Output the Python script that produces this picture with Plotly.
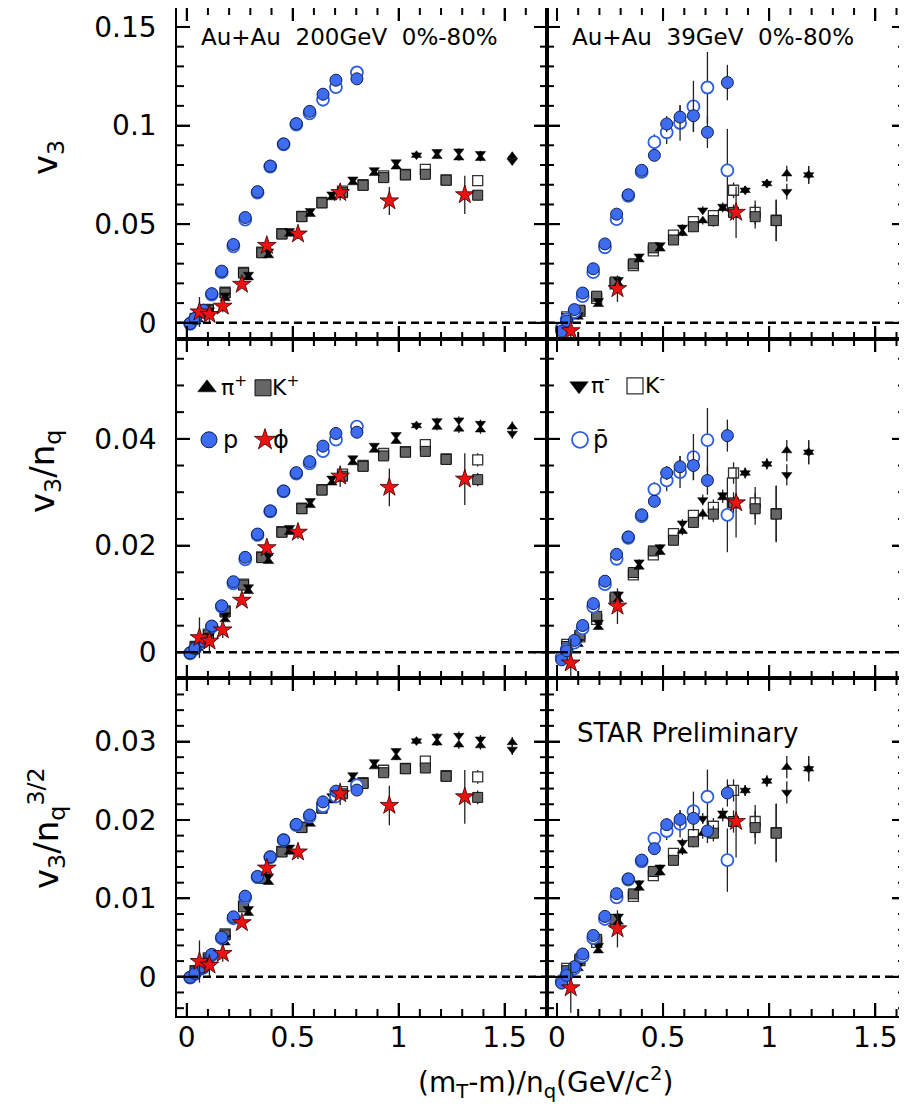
import plotly.graph_objects as go

FONT = "DejaVu Sans"

# ---------------- data: v3 vs (mT-m)/nq ----------------
# Au+Au 200 GeV
pi200_x = [0.055, 0.107, 0.181, 0.291, 0.386, 0.485, 0.583, 0.685, 0.784, 0.885, 0.988, 1.084, 1.181, 1.284, 1.386, 1.536]
pip200_v3 = [0.0015, 0.0048, 0.0123, 0.0229, 0.0341, 0.0450, 0.0551, 0.0635, 0.0711, 0.0758, 0.0791, 0.0850, 0.0844, 0.0837, 0.0834, 0.0845]
pim200_v3 = [0.0020, 0.0064, 0.0140, 0.0245, 0.0363, 0.0467, 0.0568, 0.0652, 0.0728, 0.0775, 0.0815, 0.0850, 0.0867, 0.0870, 0.0857, 0.0820]
pi200_err = [0.0003, 0.0003, 0.0003, 0.0003, 0.0004, 0.0004, 0.0005, 0.0005, 0.0006, 0.0006, 0.0008, 0.0010, 0.0012, 0.0015, 0.0015, 0.0020]

k200_x = [0.040, 0.102, 0.181, 0.268, 0.354, 0.449, 0.543, 0.638, 0.735, 0.832, 0.929, 1.032, 1.126, 1.224, 1.373]
kp200_v3 = [0.0020, 0.0064, 0.0151, 0.0252, 0.0355, 0.0450, 0.0538, 0.0608, 0.0660, 0.0697, 0.0736, 0.0750, 0.0753, 0.0723, 0.0647]
km200_v3 = [0.0022, 0.0068, 0.0155, 0.0256, 0.0358, 0.0452, 0.0540, 0.0610, 0.0668, 0.0700, 0.0745, 0.0752, 0.0778, 0.0725, 0.0721]
k200_err = [0.0003, 0.0003, 0.0003, 0.0003, 0.0004, 0.0004, 0.0005, 0.0006, 0.0008, 0.0008, 0.0010, 0.0010, 0.0015, 0.0020, 0.0025]

p200_x = [0.016, 0.039, 0.078, 0.118, 0.165, 0.220, 0.276, 0.334, 0.394, 0.457, 0.517, 0.580, 0.643, 0.704, 0.803]
p200_v3 = [-0.0003, 0.0022, 0.0064, 0.0148, 0.0262, 0.0397, 0.0534, 0.0665, 0.0795, 0.0907, 0.1010, 0.1072, 0.1159, 0.1230, 0.1237]
pbar200_v3 = [-0.0005, 0.0020, 0.0060, 0.0143, 0.0257, 0.0388, 0.0523, 0.0660, 0.0792, 0.0905, 0.1005, 0.1062, 0.1131, 0.1195, 0.1269]
p200_err = [0.0003, 0.0003, 0.0003, 0.0003, 0.0003, 0.0004, 0.0004, 0.0005, 0.0005, 0.0006, 0.0006, 0.0007, 0.0008, 0.0009, 0.0010]

phi200_x = [0.060, 0.107, 0.170, 0.260, 0.378, 0.525, 0.724, 0.956, 1.312]
phi200_v3 = [0.0055, 0.0042, 0.0084, 0.0195, 0.0392, 0.0450, 0.0660, 0.0618, 0.0649]
phi200_err = [0.0076, 0.0040, 0.0030, 0.0012, 0.0015, 0.0025, 0.0040, 0.0071, 0.0097]

# Au+Au 39 GeV
pi39_x = [0.100, 0.195, 0.289, 0.387, 0.486, 0.591, 0.687, 0.781, 0.887, 0.989, 1.083, 1.186]
pip39_v3 = [0.0030, 0.0094, 0.0198, 0.0320, 0.0375, 0.0454, 0.0518, 0.0580, 0.0672, 0.0706, 0.0756, 0.0750]
pim39_v3 = [0.0040, 0.0112, 0.0218, 0.0338, 0.0395, 0.0484, 0.0571, 0.0590, 0.0672, 0.0706, 0.0665, 0.0750]
pi39_err = [0.0005, 0.0008, 0.0010, 0.0010, 0.0010, 0.0015, 0.0020, 0.0020, 0.0020, 0.0020, 0.0040, 0.0045]

k39_x = [0.046, 0.108, 0.187, 0.274, 0.360, 0.454, 0.549, 0.643, 0.737, 0.832, 0.934, 1.033]
kp39_v3 = [0.0022, 0.0064, 0.0135, 0.0207, 0.0299, 0.0380, 0.0420, 0.0487, 0.0518, 0.0560, 0.0538, 0.0518]
km39_v3 = [0.0030, 0.0058, 0.0124, 0.0198, 0.0290, 0.0365, 0.0445, 0.0513, 0.0543, 0.0672, 0.0560, 0.0520]
k39_err = [0.0005, 0.0008, 0.0010, 0.0010, 0.0010, 0.0012, 0.0015, 0.0020, 0.0030, 0.0040, 0.0060, 0.0105]

p39_x = [0.022, 0.046, 0.082, 0.121, 0.171, 0.226, 0.281, 0.336, 0.399, 0.459, 0.517, 0.580, 0.643, 0.709, 0.803]
p39_v3 = [-0.0042, 0.0009, 0.0067, 0.0151, 0.0274, 0.0400, 0.0551, 0.0649, 0.0773, 0.0849, 0.1008, 0.1043, 0.1050, 0.0966, 0.1218]
p39_err = [0.0005, 0.0005, 0.0005, 0.0005, 0.0008, 0.0010, 0.0010, 0.0012, 0.0015, 0.0020, 0.0040, 0.0060, 0.0080, 0.0080, 0.0090]
pbar39_v3 = [-0.0028, 0.0017, 0.0055, 0.0135, 0.0257, 0.0383, 0.0526, 0.0644, 0.0765, 0.0916, 0.0966, 0.1013, 0.1097, 0.1193, 0.0773]
pbar39_err = [0.0005, 0.0005, 0.0005, 0.0005, 0.0008, 0.0010, 0.0010, 0.0012, 0.0015, 0.0040, 0.0060, 0.0090, 0.0130, 0.0180, 0.0210]

phi39_x = [0.065, 0.285, 0.844]
phi39_v3 = [-0.0040, 0.0173, 0.0560]
phi39_err = [0.0090, 0.0067, 0.0130]

# number of constituent quarks
NQ_MESON = 2
NQ_BARYON = 3
ROW_POWER = [0, 1, 1.5]          # v3, v3/nq, v3/nq^(3/2)

# axis settings
X_RANGES = [[-0.046, 1.70], [-0.047, 1.64]]
Y_RANGES = [[-0.0082, 0.1596], [-0.0048, 0.0587], [-0.0050, 0.0381]]
X_DTICK, X_MINOR = 0.5, 0.1
Y_DTICK = [0.05, 0.02, 0.01]
Y_MINOR = [0.01, 0.005, 0.002]
MAJOR_LEN, MINOR_LEN = 13, 7

# page geometry (browser body has an 8px margin)
PAGE_W, PAGE_H, OFF = 907, 1107, 8
W, H = PAGE_W - OFF, PAGE_H - OFF
COL_PX = [(177, 547), (547, 905)]
ROW_PX = [(8, 339), (339, 678), (678, 1016)]


def px(xp):
    return (xp - OFF) / W


def py(yp):
    return 1 - (yp - OFF) / H


def tick_values(rng, step):
    """Tick positions of an axis: multiples of step inside the range."""
    lo, hi = rng
    span = hi - lo
    k = int(lo / step) - 1
    vals = []
    while k * step <= hi:
        v = round(k * step, 6)
        if lo + 0.004 * span < v < hi - 0.004 * span:
            vals.append(v)
        k += 1
    return vals


# ---------------- styles ----------------
STY = {
    "pip": dict(symbol="triangle-up", size=9, color="black", line=dict(color="black", width=0.5)),
    "pim": dict(symbol="triangle-down", size=9, color="black", line=dict(color="black", width=0.5)),
    "kp": dict(symbol="square", size=10, color="#666666", line=dict(color="#111111", width=1)),
    "km": dict(symbol="square", size=10, color="white", line=dict(color="#333333", width=1.3)),
    "p": dict(symbol="circle", size=12, color="#3d6cf0", line=dict(color="#10204a", width=1)),
    "pbar": dict(symbol="circle", size=12, color="white", line=dict(color="#2f5fe0", width=1.8)),
    "phi": dict(symbol="star", size=14, color="#ee1111", line=dict(color="#330000", width=0.8)),
}

energies = [
    dict(km=(k200_x, km200_v3, k200_err), kp=(k200_x, kp200_v3, k200_err),
         pim=(pi200_x, pim200_v3, pi200_err), pip=(pi200_x, pip200_v3, pi200_err),
         pbar=(p200_x, pbar200_v3, p200_err), p=(p200_x, p200_v3, p200_err),
         phi=(phi200_x, phi200_v3, phi200_err)),
    dict(km=(k39_x, km39_v3, k39_err), kp=(k39_x, kp39_v3, k39_err),
         pim=(pi39_x, pim39_v3, pi39_err), pip=(pi39_x, pip39_v3, pi39_err),
         pbar=(p39_x, pbar39_v3, pbar39_err), p=(p39_x, p39_v3, p39_err),
         phi=(phi39_x, phi39_v3, phi39_err)),
]
NQ = dict(km=NQ_MESON, kp=NQ_MESON, pim=NQ_MESON, pip=NQ_MESON, phi=NQ_MESON,
          p=NQ_BARYON, pbar=NQ_BARYON)
DRAW_ORDER = ["km", "kp", "pim", "pip", "pbar", "p", "phi"]

fig = go.Figure()
layout = dict(width=W, height=H, margin=dict(l=0, r=0, t=0, b=0, pad=0), autosize=False,
              paper_bgcolor="white", plot_bgcolor="white", showlegend=True,
              font=dict(family=FONT, color="black"), template="none")
shapes = []
TICK_LINE = dict(color="black", width=2)

for r in range(3):
    for c in range(2):
        idx = r * 2 + c + 1
        sfx = "" if idx == 1 else str(idx)
        xa, ya = "x" + sfx, "y" + sfx
        x0, x1 = COL_PX[c]
        y0, y1 = ROW_PX[r]
        wpx, hpx = x1 - x0, y1 - y0
        common = dict(showline=True, linecolor="black", linewidth=1.5, mirror="ticks",
                      ticks="inside", ticklen=MAJOR_LEN, tickwidth=1.5, tickcolor="black",
                      showgrid=False, zeroline=False,
                      tickfont=dict(family=FONT, size=28, color="black"))
        layout["xaxis" + sfx] = dict(
            common, domain=[px(x0), px(x1)], range=X_RANGES[c], anchor=ya,
            tick0=0, dtick=X_DTICK, showticklabels=(r == 2), ticklabelstandoff=-4,
            minor=dict(ticks="inside", ticklen=MINOR_LEN, tickwidth=1.3, tickcolor="black",
                       dtick=X_MINOR, tick0=0, showgrid=False))
        layout["yaxis" + sfx] = dict(
            common, domain=[py(y1), min(1.0, py(y0))], range=Y_RANGES[r], anchor=xa,
            tick0=0, dtick=Y_DTICK[r], showticklabels=(c == 0), ticklabelstandoff=13,
            minor=dict(ticks="inside", ticklen=MINOR_LEN, tickwidth=1.3, tickcolor="black",
                       dtick=Y_MINOR[r], tick0=0, showgrid=False))

        # tick marks on all four sides, pointing into the frame
        xmaj = tick_values(X_RANGES[c], X_DTICK)
        for t in tick_values(X_RANGES[c], X_MINOR):
            L = MAJOR_LEN if any(abs(t - m) < 1e-9 for m in xmaj) else MINOR_LEN
            for base, sgn in ((0, 1), (1, -1)):
                shapes.append(dict(type="line", xref=xa, yref=ya + " domain", x0=t, x1=t,
                                   y0=base, y1=base + sgn * L / hpx, line=TICK_LINE, layer="above"))
        ymaj = tick_values(Y_RANGES[r], Y_DTICK[r])
        for t in tick_values(Y_RANGES[r], Y_MINOR[r]):
            L = MAJOR_LEN if any(abs(t - m) < 1e-9 for m in ymaj) else MINOR_LEN
            for base, sgn in ((0, 1), (1, -1)):
                shapes.append(dict(type="line", xref=xa + " domain", yref=ya, x0=base,
                                   x1=base + sgn * L / wpx, y0=t, y1=t, line=TICK_LINE, layer="above"))

        shapes.append(dict(type="line", xref=xa + " domain", yref=ya, x0=0, x1=1, y0=0, y1=0,
                           line=dict(color="black", width=2.5, dash="8px,5px"), layer="above"))
        for key in DRAW_ORDER:
            xs, vs, es = energies[c][key]
            scale = NQ[key] ** ROW_POWER[r]
            fig.add_trace(go.Scatter(
                x=xs, y=[v / scale for v in vs], mode="markers", xaxis=xa, yaxis=ya,
                marker=STY[key], showlegend=False, hoverinfo="skip",
                error_y=dict(type="data", array=[e / scale for e in es], visible=True,
                             width=0, thickness=1.3, color="#222222"),
            ))

# legend keys (symbols only); their labels are annotations
LEG = [
    ("pip", "legend", "x3", "y3"),
    ("kp", "legend", "x3", "y3"),
    ("p", "legend2", "x3", "y3"),
    ("phi", "legend2", "x3", "y3"),
    ("pim", "legend3", "x4", "y4"),
    ("km", "legend3", "x4", "y4"),
    ("pbar", "legend4", "x4", "y4"),
]
for key, leg, xa, ya in LEG:
    m = dict(STY[key])
    m["size"] = 16
    fig.add_trace(go.Scatter(x=[None], y=[None], mode="markers", marker=m, name="\u00a0",
                             legend=leg, showlegend=True, xaxis=xa, yaxis=ya))

leg_common = dict(orientation="h", xanchor="left", yanchor="middle", bgcolor="rgba(0,0,0,0)",
                  borderwidth=0, font=dict(family=FONT, size=22, color="black"),
                  itemwidth=30, entrywidth=11, entrywidthmode="pixels", tracegroupgap=0)
layout["legend"] = dict(leg_common, x=px(206 - 19), y=py(388))
layout["legend2"] = dict(leg_common, x=px(208 - 19), y=py(440))
layout["legend3"] = dict(leg_common, x=px(578 - 19), y=py(386))
layout["legend4"] = dict(leg_common, x=px(579 - 19), y=py(440))

ann = []


def label(text, xp, yp, size, xanchor="left", angle=0):
    ann.append(dict(text=text, x=px(xp), y=py(yp), xref="paper", yref="paper", textangle=angle,
                    xanchor=xanchor, yanchor="middle", showarrow=False,
                    font=dict(family=FONT, size=size, color="black")))


label("Au+Au\u00a0 200GeV\u00a0 0%-80%", 199, 37, 23)
label("Au+Au\u00a0 39GeV\u00a0 0%-80%", 570, 37, 23)
label("STAR Preliminary", 575, 733, 26)
label("(m<sub>T</sub>-m)/n<sub>q</sub>(GeV/c<sup>2</sup>)", 545, 1082, 28, xanchor="center")
label("v<sub>3</sub>", 48, 158, 34, xanchor="center", angle=-90)
label("v<sub>3</sub>/n<sub>q</sub>", 44, 472, 34, xanchor="center", angle=-90)
label("v<sub>3</sub>/n<sub>q</sub><sup>3/2</sup>", 46, 828, 34, xanchor="center", angle=-90)
# legend labels
label("\u03c0<sup>+</sup>", 219, 386, 22)
label("K<sup>+</sup>", 270, 386, 22)
label("p", 221, 440, 24)
label("\u03d5", 271, 440, 24)
label("\u03c0<sup>-</sup>", 589, 384, 22)
label("K<sup>-</sup>", 643, 384, 22)
label("p\u0304", 591, 440, 24)

layout["annotations"] = ann
layout["shapes"] = shapes
fig.update_layout(**layout)
fig.write_html("out.html")
